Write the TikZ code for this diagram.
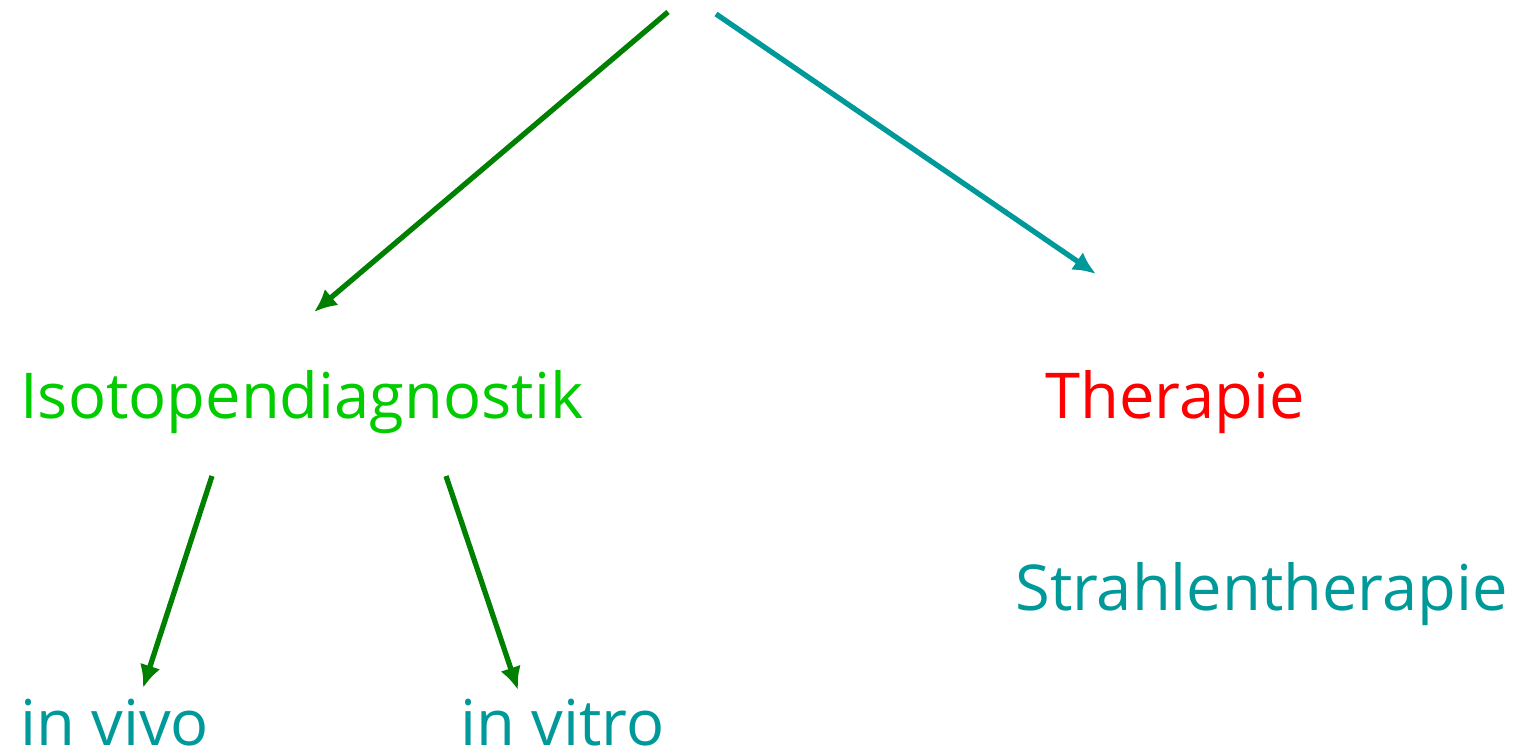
\documentclass[tikz,border=0pt]{standalone}
\usepackage{fontspec}
\setmainfont{Open Sans}
\usetikzlibrary{positioning,arrows,arrows.meta}
\definecolor{dkgreen}{RGB}{0,128,0}
\definecolor{ltgreen}{RGB}{0,204,0}
\definecolor{teal2}{RGB}{0,153,153}
\tikzstyle{lbl}=[inner sep=0pt, anchor=base west, font=\fontsize{36}{40}\selectfont]
\tikzstyle{arr}=[-{Latex[length=13pt,width=12pt]}, line width = 3pt]
\begin{document}
\begin{tikzpicture}[x=0.02cm,y=-0.02cm]
\useasboundingbox (0,0) rectangle (1534,754);
  \node[lbl, text=ltgreen] at (20,418) (iso) {Isotopendiagnostik};
  \node[lbl, text=red] at (1045,418) (ther) {Therapie};
  \node[lbl, text=teal2] at (1015,610) (strahl) {Strahlentherapie};
  \node[lbl, text=teal2] at (20,745) (vivo) {in vivo};
  \node[lbl, text=teal2] at (460,745) (vitro) {in vitro};

\coordinate (top1) at (668,12);
\coordinate (top2) at (716,14);
\coordinate (isotop) at (314,312);
\coordinate (thertop) at (1096,274);
\coordinate (isobl) at (212,476);
\coordinate (isobr) at (446,476);
\coordinate (vivotop) at (143,688);
\coordinate (vitrotop) at (518,690);

\draw[arr, dkgreen] (top1) -- (isotop);
\draw[arr, teal2] (top2) -- (thertop);
\draw[arr, dkgreen] (isobl) -- (vivotop);
\draw[arr, dkgreen] (isobr) -- (vitrotop);
\end{tikzpicture}
\end{document}
